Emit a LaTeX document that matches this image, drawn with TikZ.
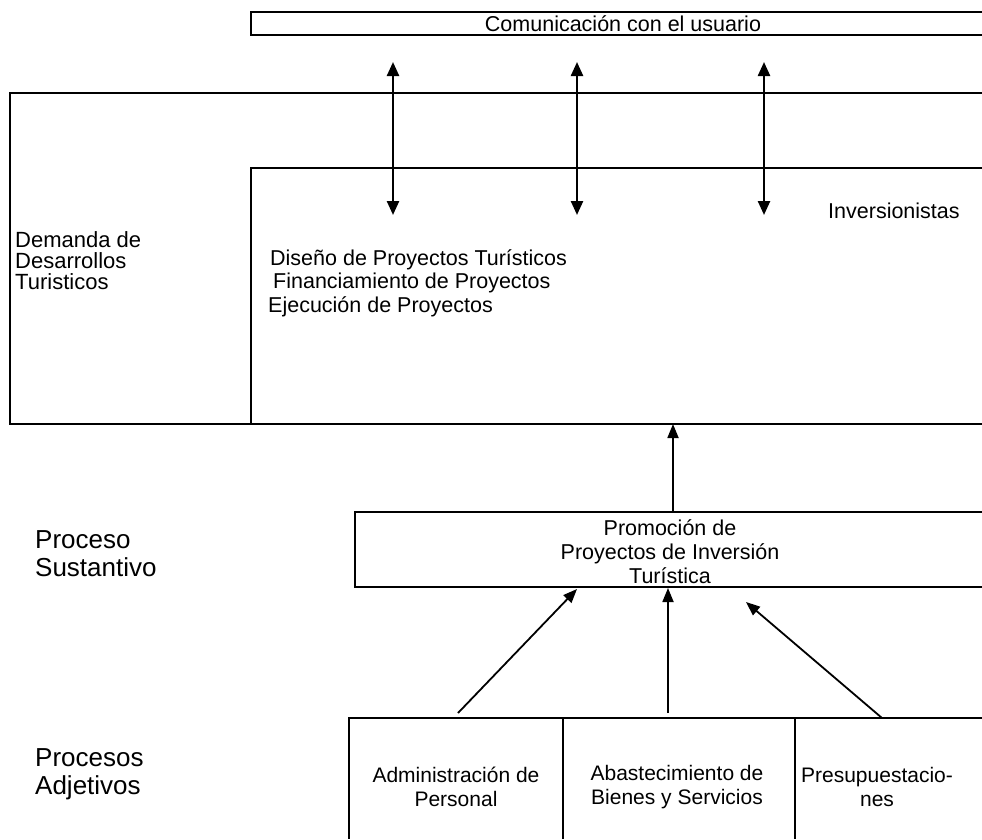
\documentclass[tikz,border=0pt]{standalone}
\usepackage{fontspec}
\setmainfont{Liberation Sans}
\usetikzlibrary{arrows.meta}
\begin{document}
\begin{tikzpicture}[x=1pt,y=-1pt,
  box/.style={line width=1.6pt},
  dbl/.style={line width=2.4pt,{Triangle[length=14pt,width=12pt]}-{Triangle[length=14pt,width=12pt]}},
  uparr/.style={line width=1.8pt,-{Triangle[length=14pt,width=11pt]}},
  txt/.style={inner sep=0pt,font=\fontsize{21.5}{23.5}\selectfont},
  side/.style={inner sep=0pt,align=left,anchor=west,font=\fontsize{26}{28}\selectfont},
  small/.style={inner sep=0pt,align=center,font=\fontsize{21}{24.5}\selectfont}]
\fill[white] (0,0) rectangle (982,839);
\useasboundingbox (0,0) rectangle (982,839);

% top box
\draw[box] (982,12) -| (251,35) -- (982,35);
\node[txt] (com) at (623,24) {Comunicación con el usuario};

% big boxes
\draw[box] (982,93) -| (10,424) -- (982,424);
\draw[box] (982,168) -| (251,424);

% double arrows
\coordinate (a1t) at (393,62); \coordinate (a1b) at (393,215);
\coordinate (a2t) at (577,62); \coordinate (a2b) at (577,215);
\coordinate (a3t) at (764,62); \coordinate (a3b) at (764,215);
\draw[dbl] (a1t) -- (a1b);
\draw[dbl] (a2t) -- (a2b);
\draw[dbl] (a3t) -- (a3b);

\node[txt,anchor=west] (inv) at (828,211) {Inversionistas};
\node[txt,anchor=west,align=left,font=\fontsize{22}{21}\selectfont] (dem) at (15,261) {Demanda de\\Desarrollos\\Turisticos};
\node[txt,anchor=west,align=left] (dis) at (268,283) {\hspace*{2pt}Diseño de Proyectos Turísticos\\\hspace*{5pt}Financiamiento de Proyectos\\Ejecución de Proyectos};

% promotion box
\draw[box] (982,512) -| (355,587) -- (982,587);
\node[txt,align=center,font=\fontsize{21.5}{24}\selectfont] (pro) at (670,552) {Promoción de\\Proyectos de Inversión\\Turística};
\coordinate (pt) at (673,512); \coordinate (bb) at (673,424);
\draw[uparr] (pt) -- (bb);

% side labels
\node[side] (ps) at (35,554) {Proceso\\Sustantivo};
\node[side] (pa) at (35,774) {Procesos\\Adjetivos};

% bottom boxes
\draw[box] (982,718) -| (349,839);
\draw[box] (563,718) -- (563,839);
\draw[box] (795,718) -- (795,839);
\node[small] (adm) at (456,787) {Administración de\\Personal};
\node[small] (abs) at (677,787) {Abastecimiento de\\Bienes y Servicios};
\node[small] (pre) at (877,787) {Presupuestacio-\\nes};

\coordinate (d1s) at (458,713); \coordinate (d1e) at (577,589);
\coordinate (d2s) at (668,713); \coordinate (d2e) at (668,588);
\coordinate (d3s) at (882,718); \coordinate (d3e) at (746,602);
\draw[uparr] (d1s) -- (d1e);
\draw[uparr] (d2s) -- (d2e);
\draw[uparr] (d3s) -- (d3e);
\end{tikzpicture}
\end{document}
